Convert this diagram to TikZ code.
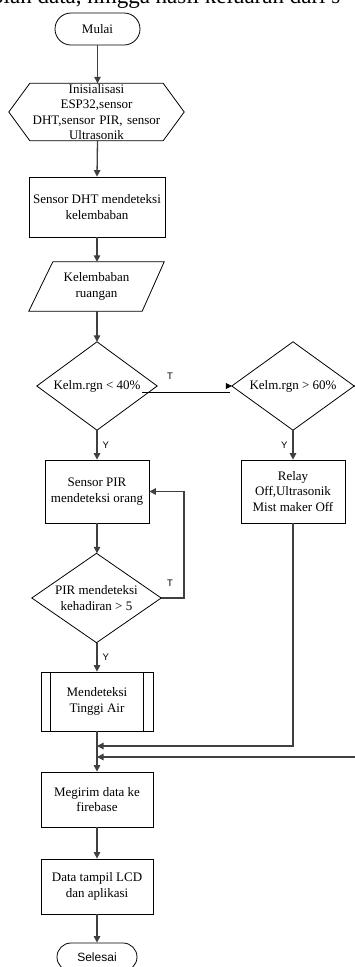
\documentclass[tikz,border=0pt]{standalone}
\usepackage{fontspec}
\setmainfont{Liberation Serif}
\newfontfamily\sansf{Liberation Sans}
\usetikzlibrary{arrows.meta}
\begin{document}
\begin{tikzpicture}[x=1pt,y=-1pt,
  txt/.style={font=\fontsize{13}{15.5}\selectfont, align=center, inner sep=0pt},
  boxn/.style={txt, draw=black, line width=0.8pt},
  ghost/.style={txt},
  shp/.style={draw=black, line width=0.8pt},
  conn/.style={draw=black!75, line width=1.3pt, -{Triangle[length=6.5pt,width=6.5pt]}},
  thin/.style={draw=black, line width=0.8pt},
  lbl/.style={font=\sansf\fontsize{9.5}{11}\selectfont, inner sep=0pt}]
\useasboundingbox (0,0) rectangle (355,967);

\node[anchor=base west, font=\fontsize{23}{27}\selectfont, inner sep=0pt] (hdr) at (-8,3.5) {olah data, hingga hasil keluaran dari s};

\node[boxn, rounded corners=16pt, minimum width=85pt, minimum height=32pt] (mulai) at (97.5,29) {Mulai};

\node[ghost, minimum width=175pt, minimum height=57pt, text width=150pt] (init) at (96.5,112)
  {Inisialisasi\\ESP32,sensor\\DHT,sensor PIR, sensor\\Ultrasonik};
\draw[shp] ([xshift=21pt]init.north west) -- ([xshift=-21pt]init.north east) -- (init.east)
  -- ([xshift=-21pt]init.south east) -- ([xshift=21pt]init.south west) -- (init.west) -- cycle;

\node[boxn, minimum width=136pt, minimum height=60pt] (dht) at (97,207) {Sensor DHT mendeteksi\\kelembaban};

\node[ghost, minimum width=135pt, minimum height=49pt] (par) at (96.5,286.5) {Kelembaban\\ruangan};
\draw[shp] ([xshift=24pt]par.north west) -- (par.north east) -- ([xshift=-22pt]par.south east)
  -- (par.south west) -- cycle;

\node[ghost, minimum width=120pt, minimum height=88pt] (d1) at (97,386) {Kelm.rgn < 40\%};
\draw[shp] (d1.north) -- (d1.east) -- (d1.south) -- (d1.west) -- cycle;

\node[ghost, minimum width=122pt, minimum height=88pt] (d2) at (293,386) {Kelm.rgn > 60\%};
\draw[shp] (d2.north) -- (d2.east) -- (d2.south) -- (d2.west) -- cycle;

\node[boxn, minimum width=104pt, minimum height=63pt] (pir) at (97,491.5) {Sensor PIR\\mendeteksi orang};
\node[boxn, minimum width=104pt, minimum height=63pt] (relay) at (293,491.5) {Relay\\Off,Ultrasonik\\Mist maker Off};

\node[ghost, minimum width=129pt, minimum height=89pt] (d3) at (96.5,598) {PIR mendeteksi\\kehadiran > 5};
\draw[shp] (d3.north) -- (d3.east) -- (d3.south) -- (d3.west) -- cycle;

\node[boxn, minimum width=112pt, minimum height=59pt] (pp) at (97,701.5) {Mendeteksi\\Tinggi Air};
\draw[shp] ([xshift=10pt]pp.north west) -- ([xshift=10pt]pp.south west);
\draw[shp] ([xshift=-10pt]pp.north east) -- ([xshift=-10pt]pp.south east);

\node[boxn, minimum width=112pt, minimum height=55pt] (meg) at (97,799.5) {Megirim data ke\\firebase};
\node[boxn, minimum width=112pt, minimum height=55pt] (lcd) at (97,886.5) {Data tampil LCD\\dan aplikasi};
\node[boxn, rounded corners=14pt, minimum width=80pt, minimum height=28pt, font=\sansf\fontsize{12}{14}\selectfont] (selesai) at (97,957) {Selesai};

% connectors
\draw[conn] (mulai.south) -- (mulai.south |- init.north);
\draw[conn] (init.south -| mulai.south) -- (dht.north);
\draw[conn] (dht.south) -- (dht.south |- par.north);
\draw[conn] (dht.south |- par.south) -- (d1.north);
\draw[conn] (d1.south) -- (pir.north) node[lbl, midway, right=5pt] {Y};
\draw[conn] (d2.south) -- (d2.south |- relay.north) node[lbl, midway, left=5pt] {Y};
\draw[conn] (pir.south) -- (pir.south |- d3.north);
\draw[conn] (d3.east) -- (184,598) |- (pir.east);
\node[lbl] (tlab2) at (170,583) {T};
\draw[conn] (d3.south -| pir.south) -- (pp.north) node[lbl, midway, right=5pt] {Y};
\draw[conn] (pp.south) -- (meg.north);
\coordinate (j1) at (97,746);
\coordinate (j2) at (97,757);
\draw[conn] (relay.south) |- (j1);
\draw[conn] (d2.east) -- ++(20,0) |- (j2);
\draw[conn] (meg.south) -- (lcd.north);
\draw[conn] (lcd.south) -- (selesai.north);

% T branch from d1 to d2
\coordinate (tstart) at (142,392);
\draw[thin] (tstart) -- (230,392);
\draw[draw=black, line width=0.8pt, -{Triangle[length=6pt,width=6pt]}] ([xshift=-6pt]d2.west) -- (d2.west);
\node[lbl] (tlab1) at (170,376) {T};
\end{tikzpicture}
\end{document}
